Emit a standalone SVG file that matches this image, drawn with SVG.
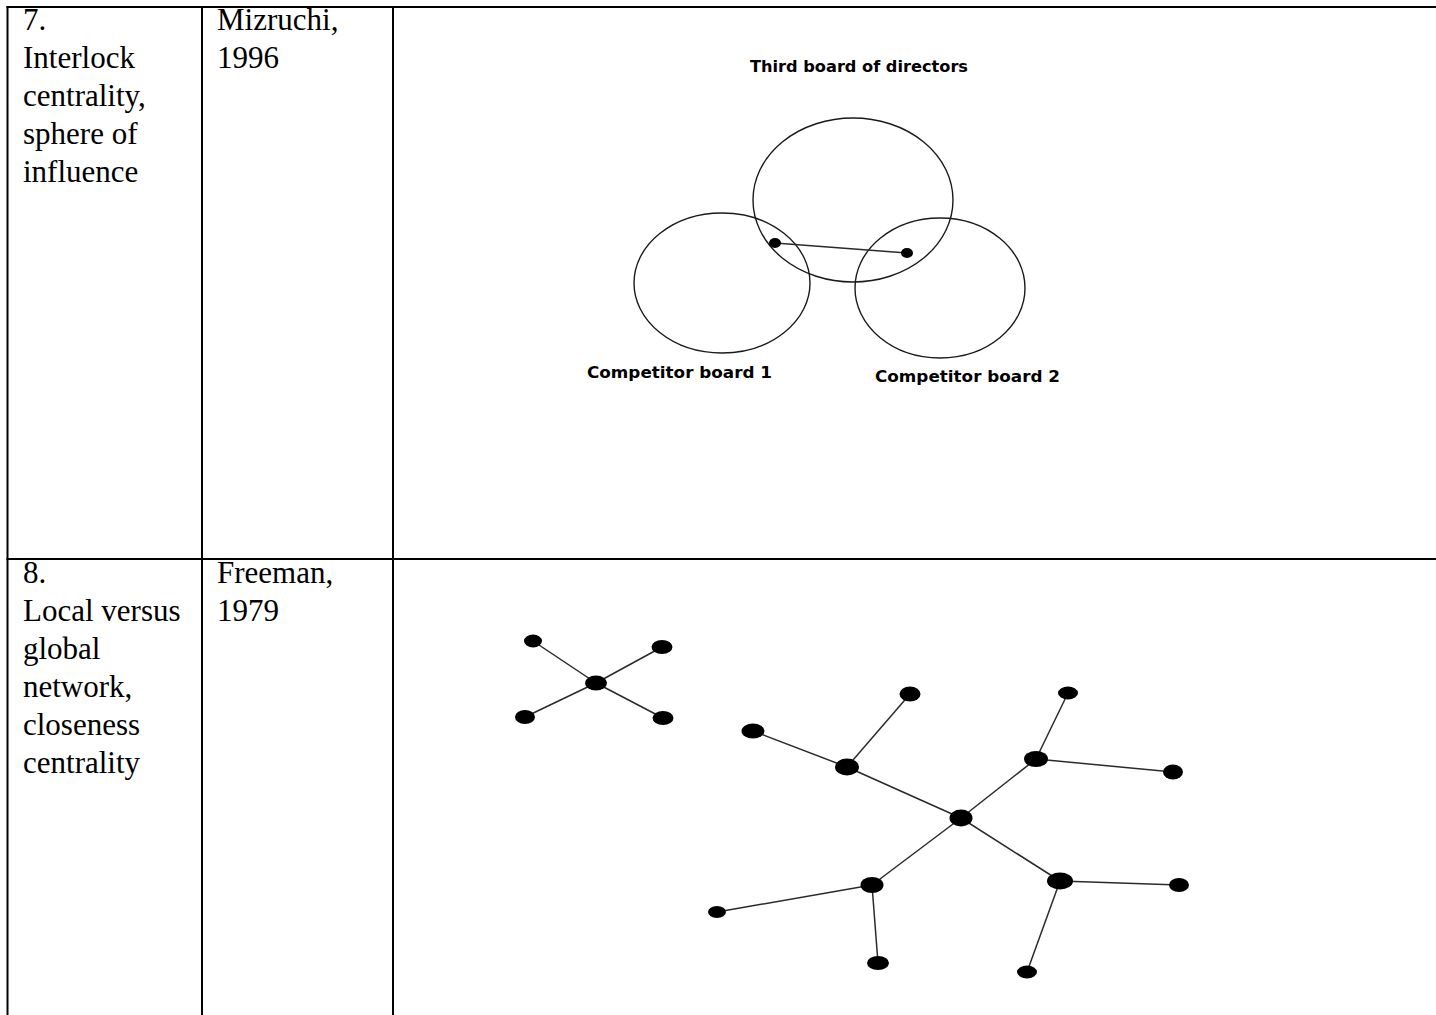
<svg xmlns="http://www.w3.org/2000/svg" width="1436" height="1015" viewBox="0 0 1436 1015">
  <style>
    .grid { stroke: #000; stroke-width: 2; fill: none; }
    .cell { font-family: "Liberation Serif", "Times New Roman", serif; font-size: 31px; fill: #000; }
    .ring { fill: none; stroke: #1a1a1a; stroke-width: 1.4; }
    .lbl { font-family: "DejaVu Sans", Verdana, sans-serif; font-weight: bold; font-size: 15.5px; fill: #000; }
    .edge { stroke: #2a2a2a; stroke-width: 1.5; fill: none; }
    .dot { fill: #000; }
  </style>
  <rect width="1436" height="1015" fill="#fff"/>

  <!-- table rules -->
  <g id="table" class="grid">
    <line x1="6.5" y1="7" x2="1436" y2="7"/>
    <line x1="7.5" y1="6" x2="7.5" y2="1015"/>
    <line x1="202" y1="6" x2="202" y2="1015"/>
    <line x1="393" y1="6" x2="393" y2="1015"/>
    <line x1="6.5" y1="559" x2="1436" y2="559"/>
  </g>

  <!-- row 7 text -->
  <g id="row7-text" class="cell">
    <text x="23" y="30">7.</text>
    <text x="23" y="68">Interlock</text>
    <text x="23" y="106">centrality,</text>
    <text x="23" y="144">sphere of</text>
    <text x="23" y="182">influence</text>
    <text x="217" y="30">Mizruchi,</text>
    <text x="217" y="68">1996</text>
  </g>

  <!-- row 8 text -->
  <g id="row8-text" class="cell">
    <text x="23" y="583">8.</text>
    <text x="23" y="621">Local versus</text>
    <text x="23" y="659">global</text>
    <text x="23" y="697">network,</text>
    <text x="23" y="735">closeness</text>
    <text x="23" y="773">centrality</text>
    <text x="217" y="583">Freeman,</text>
    <text x="217" y="621">1979</text>
  </g>

  <!-- interlocking boards -->
  <g id="board-third">
    <ellipse class="ring" cx="853" cy="200" rx="100" ry="82"/>
    <text class="lbl" x="750" y="72" textLength="218" lengthAdjust="spacingAndGlyphs">Third board of directors</text>
  </g>
  <g id="board-1">
    <ellipse class="ring" cx="722" cy="283" rx="88" ry="70"/>
    <text class="lbl" x="587" y="378" textLength="185" lengthAdjust="spacingAndGlyphs">Competitor board 1</text>
  </g>
  <g id="board-2">
    <ellipse class="ring" cx="940" cy="288" rx="85" ry="70"/>
    <text class="lbl" x="875" y="382" textLength="185" lengthAdjust="spacingAndGlyphs">Competitor board 2</text>
  </g>
  <g id="interlock-link">
    <line class="edge" x1="775" y1="243" x2="907" y2="253"/>
  </g>
  <g id="director-a"><ellipse class="dot" cx="775" cy="243" rx="6" ry="5"/></g>
  <g id="director-b"><ellipse class="dot" cx="907" cy="253" rx="6" ry="5"/></g>

  <!-- connectors of both networks -->
  <g id="connectors" class="edge">
    <line x1="596" y1="683" x2="533" y2="641"/>
    <line x1="596" y1="683" x2="662" y2="647"/>
    <line x1="596" y1="683" x2="525" y2="717"/>
    <line x1="596" y1="683" x2="663" y2="718"/>

    <line x1="961" y1="818" x2="847" y2="767"/>
    <line x1="961" y1="818" x2="1036" y2="759"/>
    <line x1="961" y1="818" x2="872" y2="885"/>
    <line x1="961" y1="818" x2="1060" y2="881"/>
    <line x1="847" y1="767" x2="753" y2="731"/>
    <line x1="847" y1="767" x2="910" y2="694"/>
    <line x1="1036" y1="759" x2="1068" y2="693"/>
    <line x1="1036" y1="759" x2="1173" y2="772"/>
    <line x1="872" y1="885" x2="717" y2="912"/>
    <line x1="872" y1="885" x2="878" y2="963"/>
    <line x1="1060" y1="881" x2="1179" y2="885"/>
    <line x1="1060" y1="881" x2="1027" y2="972"/>
  </g>

  <!-- local network nodes -->
  <g id="local-hub"><ellipse class="dot" cx="596" cy="683" rx="11" ry="7.5"/></g>
  <g id="local-a"><ellipse class="dot" cx="533" cy="641" rx="9" ry="6.5"/></g>
  <g id="local-b"><ellipse class="dot" cx="662" cy="647" rx="10.5" ry="7"/></g>
  <g id="local-c"><ellipse class="dot" cx="525" cy="717" rx="10" ry="7"/></g>
  <g id="local-d"><ellipse class="dot" cx="663" cy="718" rx="10.5" ry="7"/></g>

  <!-- global network nodes -->
  <g id="global-hub"><ellipse class="dot" cx="961" cy="818" rx="11.5" ry="8.5"/></g>
  <g id="branch-nw"><ellipse class="dot" cx="847" cy="767" rx="12" ry="8.5"/></g>
  <g id="branch-ne"><ellipse class="dot" cx="1036" cy="759" rx="12" ry="8"/></g>
  <g id="branch-sw"><ellipse class="dot" cx="872" cy="885" rx="11.5" ry="8"/></g>
  <g id="branch-se"><ellipse class="dot" cx="1060" cy="881" rx="13" ry="8.5"/></g>
  <g id="leaf-1"><ellipse class="dot" cx="753" cy="731" rx="11.5" ry="7.5"/></g>
  <g id="leaf-2"><ellipse class="dot" cx="910" cy="694" rx="10.5" ry="7.5"/></g>
  <g id="leaf-3"><ellipse class="dot" cx="1068" cy="693" rx="10" ry="6.5"/></g>
  <g id="leaf-4"><ellipse class="dot" cx="1173" cy="772" rx="10" ry="7.5"/></g>
  <g id="leaf-5"><ellipse class="dot" cx="717" cy="912" rx="9" ry="6"/></g>
  <g id="leaf-6"><ellipse class="dot" cx="878" cy="963" rx="11" ry="7"/></g>
  <g id="leaf-7"><ellipse class="dot" cx="1179" cy="885" rx="10" ry="7"/></g>
  <g id="leaf-8"><ellipse class="dot" cx="1027" cy="972" rx="10" ry="6.5"/></g>
</svg>
